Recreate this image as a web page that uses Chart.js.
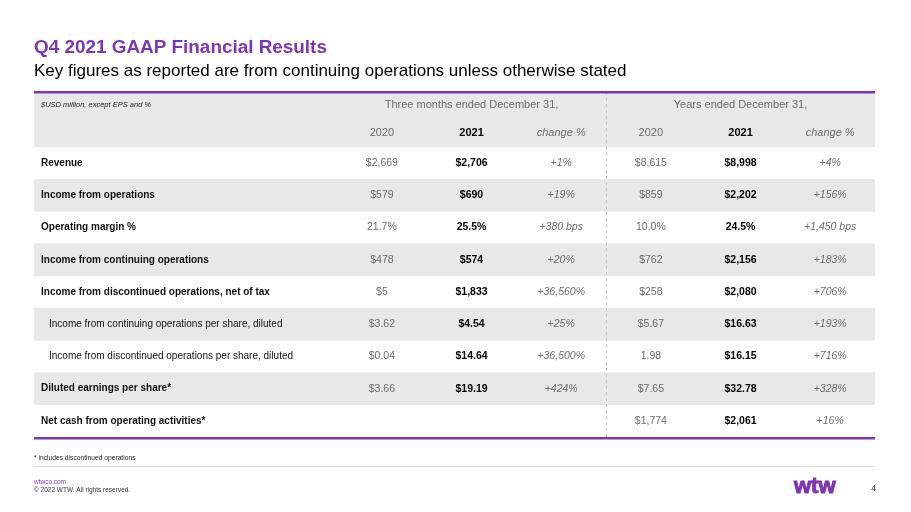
<!DOCTYPE html>
<html>
<head>
<meta charset="utf-8">
<script src="https://cdn.jsdelivr.net/npm/chart.js@4.4.1/dist/chart.umd.min.js"></script>
<style>
  html, body { margin: 0; padding: 0; background: #fff; }
  #wrap { width: 911px; height: 512px; }
</style>
</head>
<body>
<div id="wrap"><canvas id="myChart" width="911" height="512"></canvas></div>
<script>
// table content
const rowLabels = [
  'Revenue',
  'Income from operations',
  'Operating margin %',
  'Income from continuing operations',
  'Income from discontinued operations, net of tax',
  'Income from continuing operations per share, diluted',
  'Income from discontinued operations per share, diluted',
  'Diluted earnings per share*',
  'Net cash from operating activities*'
];
const indentRows = [false, false, false, false, false, true, true, false, false];
const stripeRows = [false, true, false, true, false, true, false, true, false];

const q2020   = ['$2,669', '$579', '21.7%', '$478', '$5', '$3.62', '$0.04', '$3.66', ''];
const q2021   = ['$2,706', '$690', '25.5%', '$574', '$1,833', '$4.54', '$14.64', '$19.19', ''];
const qChange = ['+1%', '+19%', '+380 bps', '+20%', '+36,560%', '+25%', '+36,500%', '+424%', ''];
const y2020   = ['$8,615', '$859', '10.0%', '$762', '$258', '$5.67', '1.98', '$7.65', '$1,774'];
const y2021   = ['$8,998', '$2,202', '24.5%', '$2,156', '$2,080', '$16.63', '$16.15', '$32.78', '$2,061'];
const yChange = ['+4%', '+156%', '+1,450 bps', '+183%', '+706%', '+193%', '+716%', '+328%', '+16%'];

const columnHeads = ['2020', '2021', 'change %', '2020', '2021', 'change %'];
const groupHeads = ['Three months ended December 31,', 'Years ended December 31,'];

const columns = [q2020, q2021, qChange, y2020, y2021, yChange];

const FONT = "'Liberation Sans', Arial, sans-serif";
const PURPLE = '#7F35B2';
const X_MIN = -2.88, X_MAX = 6.5;
const HEADER_H = 55;

function colStyle(c) {
  const k = c % 3;
  if (k === 1) return { font: 'bold 10.5px ' + FONT, color: '#000' };
  if (k === 2) return { font: 'italic 10.5px ' + FONT, color: '#6b6b6b' };
  return { font: '10.5px ' + FONT, color: '#6b6b6b' };
}

const tablePlugin = {
  id: 'tablePlugin',
  beforeDatasetsDraw(chart) {
    const { ctx, chartArea } = chart;
    ctx.save();
    ctx.fillStyle = '#E8E8E8';
    ctx.fillRect(chartArea.left, chartArea.top - HEADER_H, chartArea.right - chartArea.left, HEADER_H);
    ctx.restore();
  },
  afterDatasetsDraw(chart) {
    const { ctx, chartArea, scales } = chart;
    const x = scales.x, y = scales.y;
    const top = chartArea.top - HEADER_H;
    ctx.save();

    // dashed divider between the two groups
    const xd = Math.round(x.getPixelForValue(3.5)) + 0.5;
    ctx.strokeStyle = '#c8c8c8';
    ctx.lineWidth = 1;
    ctx.setLineDash([3, 3]);
    ctx.beginPath();
    ctx.moveTo(xd, top);
    ctx.lineTo(xd, chartArea.bottom);
    ctx.stroke();
    ctx.setLineDash([]);

    // purple rules
    ctx.fillStyle = PURPLE;
    ctx.fillRect(chartArea.left, top - 1, chartArea.right - chartArea.left, 2.5);
    ctx.fillRect(chartArea.left, chartArea.bottom, chartArea.right - chartArea.left, 2.5);

    // header
    ctx.textBaseline = 'middle';
    ctx.fillStyle = '#222';
    ctx.font = 'italic 7.5px ' + FONT;
    ctx.textAlign = 'left';
    ctx.fillText('$USD million, except EPS and %', chartArea.left + 7, top + 13);

    ctx.textAlign = 'center';
    ctx.font = '11px ' + FONT;
    ctx.fillStyle = '#6b6b6b';
    groupHeads.forEach((g, i) => {
      ctx.fillText(g, x.getPixelForValue(2 + i * 3), top + 13);
    });
    columnHeads.forEach((h, c) => {
      const s = colStyle(c);
      ctx.font = s.font.replace('10.5px', '11px');
      ctx.fillStyle = s.color;
      ctx.fillText(h, x.getPixelForValue(c + 1), top + 41);
    });

    // rows
    rowLabels.forEach((label, r) => {
      const yp = y.getPixelForValue(r);
      ctx.textAlign = 'left';
      ctx.fillStyle = '#111';
      ctx.font = (indentRows[r] ? '' : 'bold ') + '10px ' + FONT;
      ctx.fillText(label, chartArea.left + (indentRows[r] ? 15 : 7), yp);
      ctx.textAlign = 'center';
      columns.forEach((col, c) => {
        if (!col[r]) return;
        const s = colStyle(c);
        ctx.font = s.font;
        ctx.fillStyle = s.color;
        ctx.fillText(col[r], x.getPixelForValue(c + 1), yp);
      });
    });
    ctx.restore();
  },
  afterDraw(chart) {
    const { ctx } = chart;
    ctx.save();
    ctx.textBaseline = 'alphabetic';
    ctx.textAlign = 'left';
    ctx.fillStyle = PURPLE;
    ctx.font = 'bold 18.9px ' + FONT;
    ctx.fillText('Q4 2021 GAAP Financial Results', 34, 53);
    ctx.fillStyle = '#000';
    ctx.font = '17px ' + FONT;
    ctx.fillText('Key figures as reported are from continuing operations unless otherwise stated', 34, 76);

    ctx.textBaseline = 'middle';
    ctx.fillStyle = '#222';
    ctx.font = '6.7px ' + FONT;
    ctx.fillText('* includes discontinued operations', 34, 458);
    ctx.fillStyle = '#dcdcdc';
    ctx.fillRect(34, 466, 841, 1);
    ctx.fillStyle = PURPLE;
    ctx.font = '6.5px ' + FONT;
    ctx.fillText('wtwco.com', 34, 482);
    ctx.fillStyle = '#333';
    ctx.fillText('\u00A9 2022 WTW. All rights reserved.', 34, 490);

    ctx.fillStyle = PURPLE;
    ctx.strokeStyle = PURPLE;
    ctx.lineWidth = 1;
    ctx.font = 'bold 22px ' + FONT;
    ctx.fillText('wtw', 794, 487);
    ctx.strokeText('wtw', 794, 487);
    ctx.fillStyle = '#222';
    ctx.font = '8.5px ' + FONT;
    ctx.textAlign = 'right';
    ctx.fillText('4', 876, 489);
    ctx.restore();
  }
};

const ctx = document.getElementById('myChart');

const tableChart = new Chart(ctx, {
  type: 'bar',
  data: {
    labels: rowLabels,
    datasets: [{
      label: 'stripes',
      data: stripeRows.map(s => (s ? [X_MIN, X_MAX] : null)),
      backgroundColor: '#E8E8E8',
      borderWidth: 0,
      borderSkipped: false,
      barPercentage: 1,
      categoryPercentage: 1
    }]
  },
  options: {
    indexAxis: 'y',
    responsive: false,
    animation: false,
    devicePixelRatio: 1,
    layout: { padding: { left: 34, right: 36, top: 147, bottom: 75 } },
    scales: {
      x: { type: 'linear', min: X_MIN, max: X_MAX, display: false },
      y: { type: 'category', display: false, offset: true }
    },
    plugins: {
      legend: { display: false },
      tooltip: { enabled: false }
    }
  },
  plugins: [tablePlugin]
});
</script>
</body>
</html>
